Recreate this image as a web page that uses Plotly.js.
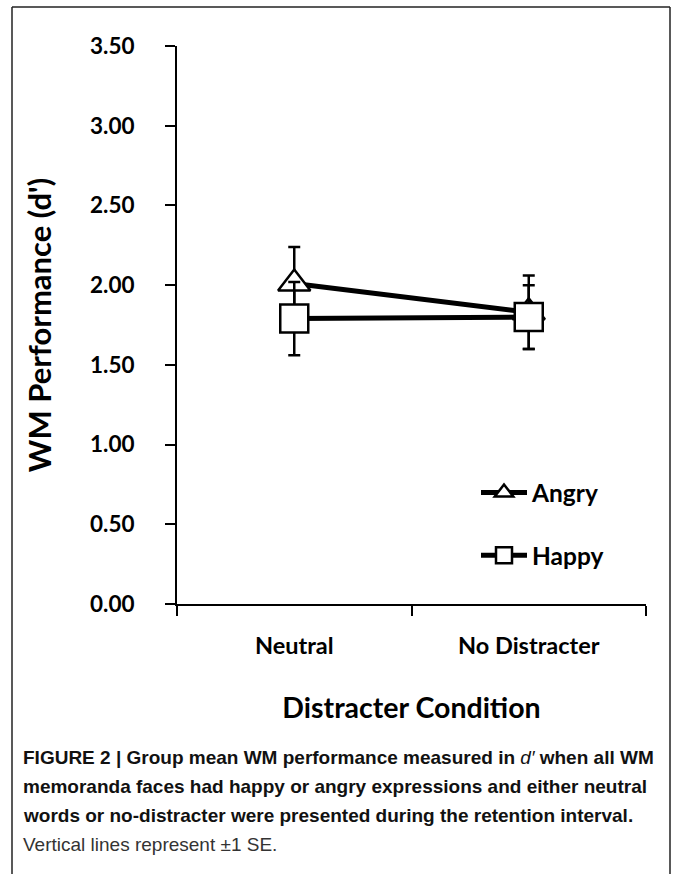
<!DOCTYPE html>
<html>
<head>
<meta charset="utf-8">
<script src="https://cdn.plot.ly/plotly-3.0.1.min.js"></script>
<style>html,body{margin:0;padding:0;background:#fff;}#chart{width:673px;height:874px;}</style>
</head>
<body>
<div id="chart"></div>
<script>
// ---- data ----
const conditions = ["Neutral", "No Distracter"];
const angryMean = [2.01, 1.83];
const angrySE = [0.23, 0.23];
const happyMean = [1.79, 1.80];
const happySE = [0.23, 0.20];
const yTicks = [0, 0.5, 1, 1.5, 2, 2.5, 3, 3.5];
const captionLines = [
  "<b>FIGURE 2 | Group mean WM performance measured in </b><i>d′</i><b> when all WM</b>",
  "<b>memoranda faces had happy or angry expressions and either neutral</b>",
  "<b>words or no-distracter were presented during the retention interval.</b>",
  "Vertical lines represent ±1 SE."
];

// ---- layout geometry (pixels) ----
const W = 673, H = 874;
const L = 177, R = 646, T = 46, B = 604;
const px = x => (x - L) / (R - L);
const py = y => (B - y) / (B - T);

const chartFont = 'Lato, "Open Sans", sans-serif';
const capFont = '"Liberation Sans Narrow", "Liberation Sans", Arial, sans-serif';

const traces = [
  {
    x: conditions, y: angryMean, name: "Angry", type: "scatter", mode: "lines+markers",
    legendgroup: "a",
    line: {color: "#000", width: 5},
    marker: {symbol: "triangle-up", size: 28, color: "#fff", line: {color: "#000", width: 2.5}},
    error_y: {type: "data", array: angrySE, visible: true, color: "#000", thickness: 2.5, width: 6}
  },
  {
    x: conditions, y: happyMean, name: "Happy", type: "scatter", mode: "lines+markers",
    legendgroup: "h",
    line: {color: "#000", width: 5},
    marker: {symbol: "square", size: 28, color: "#fff", line: {color: "#000", width: 2.5}},
    error_y: {type: "data", array: happySE, visible: true, color: "#000", thickness: 2.5, width: 6}
  }
];

const annotations = captionLines.map((t, i) => ({
  text: t, xref: "paper", yref: "paper", x: px(21), y: py(757 + i * 29),
  xanchor: "left", yanchor: "middle", showarrow: false, align: "left",
  font: {family: capFont, size: 19, color: i === 3 ? "#333" : "#111"}
}));

const borderStyle = {color: "#222", width: 1.5};
const shapes = [
  {type: "line", xref: "paper", yref: "paper", x0: px(12), x1: px(670), y0: py(7), y1: py(7), line: borderStyle},
  {type: "line", xref: "paper", yref: "paper", x0: px(12), x1: px(12), y0: py(7), y1: py(874), line: borderStyle},
  {type: "line", xref: "paper", yref: "paper", x0: px(670), x1: px(670), y0: py(7), y1: py(874), line: borderStyle}
];

const layout = {
  width: W, height: H,
  margin: {l: L, r: W - R, t: T, b: H - B, pad: 0},
  paper_bgcolor: "#fff", plot_bgcolor: "#fff",
  showlegend: true,
  legend: {
    x: px(476), y: py(470), xanchor: "left", yanchor: "top",
    font: {family: chartFont, size: 24.5, color: "#000", weight: "bold"},
    tracegroupgap: 28, bgcolor: "rgba(0,0,0,0)", itemwidth: 46
  },
  xaxis: {
    type: "category", range: [-0.5, 1.5], tickson: "boundaries",
    showline: true, linecolor: "#000", linewidth: 2,
    ticks: "outside", ticklen: 10, tickwidth: 2, tickcolor: "#000",
    showgrid: false, zeroline: false,
    tickfont: {family: chartFont, size: 23.5, color: "#000", weight: "bold"},
    ticklabelstandoff: 20,
    title: {text: "Distracter Condition", standoff: 40,
      font: {family: chartFont, size: 28.5, color: "#000", weight: "bold"}},
    automargin: false
  },
  yaxis: {
    range: [0, 3.5], tickvals: yTicks, tickformat: ".2f",
    showline: true, linecolor: "#000", linewidth: 2,
    ticks: "outside", ticklen: 10, tickwidth: 2, tickcolor: "#000",
    showgrid: false, zeroline: false,
    tickfont: {family: chartFont, size: 22.5, color: "#000", weight: "bold"},
    ticklabelstandoff: 26,
    title: {text: "WM Performance (d')", standoff: 29,
      font: {family: chartFont, size: 31, color: "#000", weight: "bold"}},
    automargin: false
  },
  annotations: annotations,
  shapes: shapes
};

Plotly.newPlot("chart", traces, layout, {staticPlot: true, displayModeBar: false});
</script>
</body>
</html>
